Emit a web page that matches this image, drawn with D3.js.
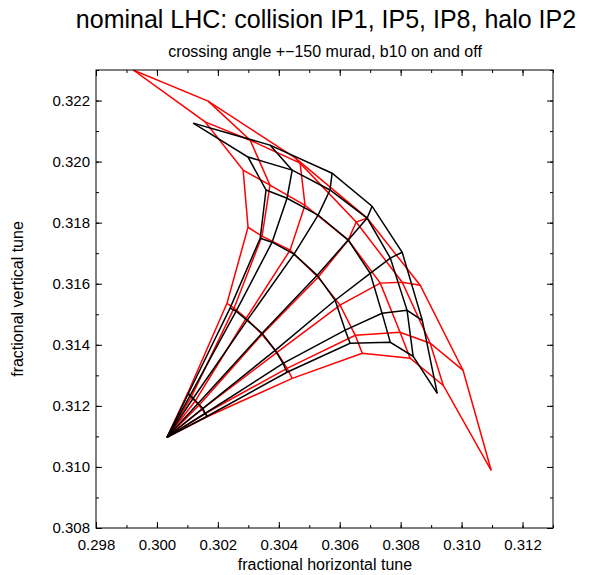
<!DOCTYPE html>
<html lang="en">
<head>
<meta charset="utf-8">
<title>tune footprint</title>
<script src="https://d3js.org/d3.v7.min.js"></script>
<style>
  body { margin: 0; background: #fff; }
  text { font-family: "Liberation Sans", Arial, sans-serif; fill: #000; }
  .axis path { display: none; }
  .axis line { stroke: #000; stroke-width: 1; }
</style>
</head>
<body>
<div id="chart"></div>
<script>

// amplitude rows (sigma) and angle columns (deg) of the tracked particle grid
var amplitudes = [1, 2, 3, 4, 5, 6];
var angles = [0, 15, 30, 45, 60, 75, 90];

// tune at zero amplitude, shared by both cases
var originQx = 0.30033;
var originQy = 0.31097;

// b10 off (black)
var offQx = [
  [0.30165, 0.30158, 0.30151, 0.30135, 0.30119, 0.30109, 0.30102],
  [0.30427, 0.30414, 0.30388, 0.30345, 0.30296, 0.30260, 0.30240],
  [0.30634, 0.30618, 0.30585, 0.30526, 0.30450, 0.30378, 0.30339],
  [0.30766, 0.30739, 0.30700, 0.30628, 0.30529, 0.30427, 0.30358],
  [0.30841, 0.30821, 0.30766, 0.30690, 0.30568, 0.30444, 0.30299],
  [0.30920, 0.30871, 0.30805, 0.30706, 0.30575, 0.30371, 0.30119]];
var offQy = [
  [0.31166, 0.31175, 0.31192, 0.31208, 0.31225, 0.31234, 0.31238],
  [0.31310, 0.31339, 0.31382, 0.31438, 0.31480, 0.31510, 0.31520],
  [0.31405, 0.31448, 0.31546, 0.31628, 0.31697, 0.31736, 0.31749],
  [0.31408, 0.31503, 0.31634, 0.31743, 0.31825, 0.31880, 0.31907],
  [0.31362, 0.31513, 0.31684, 0.31815, 0.31907, 0.31972, 0.32015],
  [0.31241, 0.31480, 0.31703, 0.31854, 0.31962, 0.32054, 0.32126]];

// b10 on (red)
var onQx = [
  [0.30168, 0.30158, 0.30148, 0.30138, 0.30125, 0.30112, 0.30102],
  [0.30444, 0.30427, 0.30394, 0.30345, 0.30293, 0.30253, 0.30230],
  [0.30674, 0.30651, 0.30601, 0.30529, 0.30437, 0.30345, 0.30299],
  [0.30831, 0.30798, 0.30733, 0.30628, 0.30486, 0.30371, 0.30283],
  [0.30940, 0.30897, 0.30805, 0.30654, 0.30470, 0.30306, 0.30158],
  [0.31097, 0.31005, 0.30864, 0.30690, 0.30454, 0.30168, 0.29922]];
var onQy = [
  [0.31166, 0.31175, 0.31189, 0.31202, 0.31215, 0.31228, 0.31244],
  [0.31290, 0.31323, 0.31375, 0.31434, 0.31487, 0.31520, 0.31536],
  [0.31372, 0.31431, 0.31530, 0.31621, 0.31710, 0.31756, 0.31785],
  [0.31356, 0.31441, 0.31602, 0.31743, 0.31857, 0.31923, 0.31972],
  [0.31267, 0.31405, 0.31605, 0.31802, 0.31995, 0.32070, 0.32130],
  [0.30989, 0.31316, 0.31595, 0.31815, 0.32012, 0.32198, 0.32300]];

var xTicks = [0.298, 0.300, 0.302, 0.304, 0.306, 0.308, 0.310, 0.312];
var yTicks = [0.308, 0.310, 0.312, 0.314, 0.316, 0.318, 0.320, 0.322];

var width = 591;
var height = 575;
var margin = {top: 70, left: 96, right: 38, bottom: 47};

var svg = d3.select("#chart")
  .append("svg")
  .attr("width", width)
  .attr("height", height);

var xScale = d3.scaleLinear()
  .domain([0.298, 0.313])
  .range([margin.left, width - margin.right]);

var yScale = d3.scaleLinear()
  .domain([0.308, 0.323])
  .range([height - margin.bottom, margin.top]);

var minorX = d3.range(0.298, 0.3135, 0.001);
var minorY = d3.range(0.308, 0.3235, 0.001);

// ticks point inwards on all four sides
svg.append("g").attr("class", "axis")
  .attr("transform", `translate(0,${height - margin.bottom})`)
  .call(d3.axisBottom(xScale).tickValues(minorX).tickSize(-3).tickFormat(""));
svg.append("g").attr("class", "axis")
  .attr("transform", `translate(0,${height - margin.bottom})`)
  .call(d3.axisBottom(xScale).tickValues(xTicks).tickSize(-6).tickPadding(11).tickFormat(d3.format(".3f")))
  .selectAll("text").style("font-size", "15px");
svg.append("g").attr("class", "axis")
  .attr("transform", `translate(0,${margin.top})`)
  .call(d3.axisTop(xScale).tickValues(minorX).tickSize(-3).tickFormat(""));
svg.append("g").attr("class", "axis")
  .attr("transform", `translate(0,${margin.top})`)
  .call(d3.axisTop(xScale).tickValues(xTicks).tickSize(-6).tickFormat(""));

svg.append("g").attr("class", "axis")
  .attr("transform", `translate(${margin.left},0)`)
  .call(d3.axisLeft(yScale).tickValues(minorY).tickSize(-3).tickFormat(""));
svg.append("g").attr("class", "axis")
  .attr("transform", `translate(${margin.left},0)`)
  .call(d3.axisLeft(yScale).tickValues(yTicks).tickSize(-6).tickPadding(6).tickFormat(d3.format(".3f")))
  .selectAll("text").style("font-size", "15px");
svg.append("g").attr("class", "axis")
  .attr("transform", `translate(${width - margin.right},0)`)
  .call(d3.axisRight(yScale).tickValues(minorY).tickSize(-3).tickFormat(""));
svg.append("g").attr("class", "axis")
  .attr("transform", `translate(${width - margin.right},0)`)
  .call(d3.axisRight(yScale).tickValues(yTicks).tickSize(-6).tickFormat(""));

svg.append("clipPath").attr("id", "plotArea")
  .append("rect")
  .attr("x", margin.left)
  .attr("y", margin.top)
  .attr("width", width - margin.left - margin.right)
  .attr("height", height - margin.top - margin.bottom);

var line = d3.line()
  .x(function(d){return xScale(d[0]);})
  .y(function(d){return yScale(d[1]);});

// one polyline per angle (rays from the origin) and one per amplitude (arcs)
function gridLines(qx, qy){
  var lines = [];
  angles.forEach(function(a, j){
    var ray = [[originQx, originQy]];
    amplitudes.forEach(function(s, i){ ray.push([qx[i][j], qy[i][j]]); });
    lines.push(ray);
  });
  amplitudes.forEach(function(s, i){
    lines.push(angles.map(function(a, j){ return [qx[i][j], qy[i][j]]; }));
  });
  return lines;
}

var plot = svg.append("g").attr("clip-path", "url(#plotArea)");

plot.selectAll(".on")
  .data(gridLines(onQx, onQy))
  .enter().append("path")
  .attr("class", "on")
  .attr("d", line)
  .attr("fill", "none")
  .attr("stroke", "#ff0000")
  .attr("stroke-width", 1.5)
  .attr("stroke-linejoin", "miter");

plot.selectAll(".off")
  .data(gridLines(offQx, offQy))
  .enter().append("path")
  .attr("class", "off")
  .attr("d", line)
  .attr("fill", "none")
  .attr("stroke", "#000000")
  .attr("stroke-width", 1.5)
  .attr("stroke-linejoin", "miter");

svg.append("rect")
  .attr("x", margin.left)
  .attr("y", margin.top)
  .attr("width", width - margin.left - margin.right)
  .attr("height", height - margin.top - margin.bottom)
  .attr("fill", "none")
  .attr("stroke", "#000")
  .attr("stroke-width", 1);

svg.append("text")
  .attr("x", 326)
  .attr("y", 28)
  .attr("text-anchor", "middle")
  .style("font-size", "25px")
  .text("nominal LHC: collision IP1, IP5, IP8, halo IP2");

svg.append("text")
  .attr("x", 325)
  .attr("y", 57)
  .attr("text-anchor", "middle")
  .style("font-size", "16px")
  .text("crossing angle +\u2212150 murad, b10 on and off");

svg.append("text")
  .attr("x", 325)
  .attr("y", 570)
  .attr("text-anchor", "middle")
  .style("font-size", "16px")
  .text("fractional horizontal tune");

svg.append("text")
  .attr("transform", "rotate(-90)")
  .attr("x", -299)
  .attr("y", 23)
  .attr("text-anchor", "middle")
  .style("font-size", "16px")
  .text("fractional vertical tune");

</script>
</body>
</html>
